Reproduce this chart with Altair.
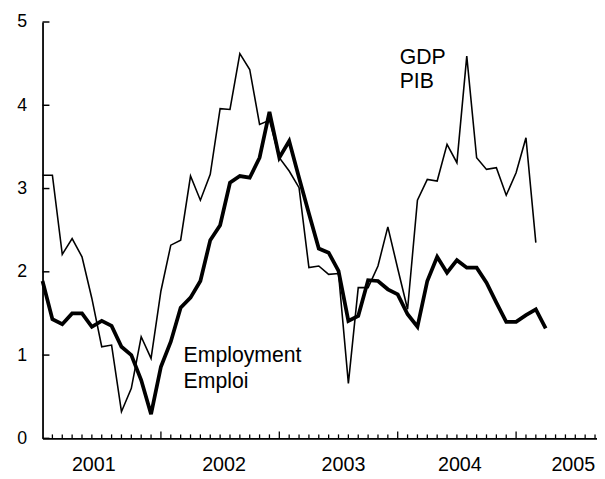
import altair as alt
import pandas as pd

# Year-over-year growth, monthly, starting January 2001 (month index 0)
gdp = [3.16, 3.16, 2.21, 2.40, 2.18, 1.68, 1.10, 1.12, 0.32, 0.60,
       1.22, 0.96, 1.77, 2.32, 2.38, 3.15, 2.86, 3.17, 3.96, 3.95,
       4.62, 4.43, 3.77, 3.82, 3.37, 3.21, 3.01, 2.05, 2.07, 1.97,
       1.98, 0.66, 1.81, 1.81, 2.07, 2.54, 2.04, 1.55, 2.86, 3.11,
       3.09, 3.53, 3.31, 4.59, 3.37, 3.23, 3.25, 2.92, 3.19, 3.61,
       2.35]
employment = [1.89, 1.43, 1.37, 1.50, 1.50, 1.34, 1.41, 1.35, 1.10, 1.00,
              0.70, 0.29, 0.86, 1.16, 1.57, 1.69, 1.89, 2.38, 2.56, 3.07,
              3.15, 3.13, 3.37, 3.92, 3.37, 3.57, 3.13, 2.70, 2.28, 2.23,
              2.01, 1.41, 1.47, 1.90, 1.89, 1.79, 1.73, 1.49, 1.34, 1.89,
              2.18, 1.99, 2.14, 2.05, 2.05, 1.87, 1.63, 1.40, 1.40, 1.48,
              1.55, 1.32]

year_labels = ["2001", "2002", "2003", "2004", "2005"]
year_label_pos = [5.2, 18.4, 30.5, 42.3, 53.8]
y_ticks = [0, 1, 2, 3, 4, 5]
month_ticks = list(range(1, 57))
year_ticks = [12, 24, 36, 48]

ann_text = ["GDP", "PIB", "Employment", "Emploi"]
ann_x = [36.2, 36.2, 14.3, 14.3]
ann_y = [4.57, 4.28, 0.99, 0.68]

W, H = 562, 422
FONT = "Liberation Sans"

gdp_df = pd.DataFrame({"m": list(range(len(gdp))), "v": gdp})
emp_df = pd.DataFrame({"m": list(range(len(employment))), "v": employment})
minor_df = pd.DataFrame({"m": [m for m in month_ticks if m not in year_ticks]})
major_df = pd.DataFrame({"m": year_ticks})
yt_df = pd.DataFrame({"v": y_ticks})
yl_df = pd.DataFrame({"m": year_label_pos, "t": year_labels})
ann_df = pd.DataFrame({"m": ann_x, "v": ann_y, "t": ann_text})

xs = alt.Scale(domain=[0, 56.2], nice=False, zero=False)
ys = alt.Scale(domain=[0, 5], nice=False)

x_axis = alt.Axis(labels=False, ticks=False, grid=False, title=None,
                  domainColor="black", domainWidth=1.8)
y_axis = alt.Axis(values=y_ticks, format="d", ticks=False, tickSize=0, grid=False, title=None,
                  domainColor="black", domainWidth=1.8, labelPadding=16,
                  labelFontSize=18, labelFont=FONT, labelColor="black")

gdp_line = alt.Chart(gdp_df).mark_line(color="black", strokeWidth=1.6, strokeJoin="miter").encode(
    x=alt.X("m:Q", scale=xs, axis=x_axis),
    y=alt.Y("v:Q", scale=ys, axis=y_axis),
)
emp_line = alt.Chart(emp_df).mark_line(color="black", strokeWidth=3.8, strokeJoin="miter").encode(
    x=alt.X("m:Q", scale=xs),
    y=alt.Y("v:Q", scale=ys),
)
minor = alt.Chart(minor_df).mark_rule(color="black", strokeWidth=1.3).encode(
    x=alt.X("m:Q", scale=xs), y=alt.value(H), y2=alt.value(H - 4))
major = alt.Chart(major_df).mark_rule(color="black", strokeWidth=1.3).encode(
    x=alt.X("m:Q", scale=xs), y=alt.value(H), y2=alt.value(H - 7))
yt = alt.Chart(yt_df).mark_rule(color="black", strokeWidth=1.5).encode(
    y=alt.Y("v:Q", scale=ys), x=alt.value(0), x2=alt.value(7))
ylab = alt.Chart(yl_df).mark_text(font=FONT, fontSize=20, color="black",
                                  align="center", baseline="middle").encode(
    x=alt.X("m:Q", scale=xs), y=alt.value(H + 27), text="t:N")
ann = alt.Chart(ann_df).mark_text(font=FONT, fontSize=21.5, color="black",
                                  align="left", baseline="middle").encode(
    x=alt.X("m:Q", scale=xs), y=alt.Y("v:Q", scale=ys), text="t:N")

chart = alt.layer(gdp_line, emp_line, minor, major, yt, ylab, ann).properties(
    width=W, height=H,
    autosize=alt.AutoSizeParams(type="none"),
    padding={"left": 35, "top": 11, "right": 0, "bottom": 38},
    background="white",
).configure_view(stroke=None)

chart.save("out.html", embed_options={"renderer": "svg", "actions": False})
